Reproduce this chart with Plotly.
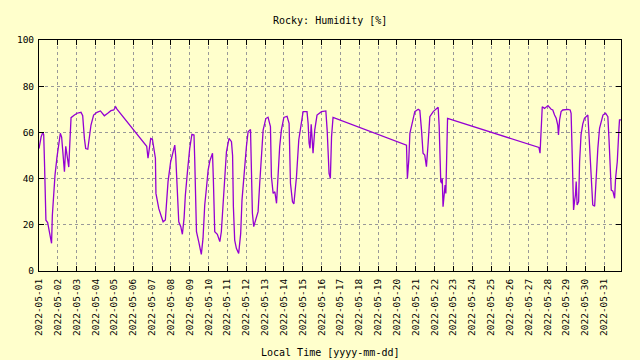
import plotly.graph_objects as go

times = [
    "2022-05-01 00:00", "2022-05-01 02:40", "2022-05-01 04:50", "2022-05-01 06:00", "2022-05-01 07:00",
    "2022-05-01 08:10", "2022-05-01 08:50", "2022-05-01 11:00", "2022-05-01 12:30", "2022-05-01 14:20",
    "2022-05-01 16:00", "2022-05-01 17:00", "2022-05-01 18:40", "2022-05-01 20:25", "2022-05-01 23:00",
    "2022-05-02 00:40", "2022-05-02 03:10", "2022-05-02 04:50", "2022-05-02 06:15", "2022-05-02 08:25",
    "2022-05-02 10:05", "2022-05-02 11:45", "2022-05-02 13:55", "2022-05-02 15:10", "2022-05-02 16:50",
    "2022-05-02 21:10", "2022-05-03 00:30", "2022-05-03 05:30", "2022-05-03 07:40", "2022-05-03 09:50",
    "2022-05-03 11:30", "2022-05-03 14:10", "2022-05-03 16:20", "2022-05-03 18:15", "2022-05-03 21:35",
    "2022-05-04 01:55", "2022-05-04 06:15", "2022-05-04 09:10", "2022-05-04 11:15", "2022-05-04 15:35",
    "2022-05-04 19:40", "2022-05-04 23:15", "2022-05-05 01:40", "2022-05-05 03:20",
    "2022-05-06 17:15", "2022-05-06 18:55", "2022-05-06 20:10", "2022-05-06 22:20", "2022-05-07 00:30",
    "2022-05-07 02:40", "2022-05-07 04:20", "2022-05-07 05:00", "2022-05-07 08:40", "2022-05-07 12:00",
    "2022-05-07 14:10", "2022-05-07 17:00", "2022-05-07 18:40", "2022-05-07 20:25", "2022-05-07 23:45",
    "2022-05-08 02:50", "2022-05-08 05:00", "2022-05-08 06:15", "2022-05-08 07:55", "2022-05-08 10:05",
    "2022-05-08 12:40", "2022-05-08 14:40", "2022-05-08 16:50", "2022-05-08 18:30", "2022-05-08 21:10",
    "2022-05-09 00:00", "2022-05-09 02:50", "2022-05-09 05:30", "2022-05-09 06:30", "2022-05-09 08:40",
    "2022-05-09 11:30", "2022-05-09 14:50", "2022-05-09 17:00", "2022-05-09 19:10", "2022-05-09 21:20",
    "2022-05-09 23:30", "2022-05-10 01:40", "2022-05-10 03:50", "2022-05-10 05:05", "2022-05-10 06:15",
    "2022-05-10 07:55", "2022-05-10 11:15", "2022-05-10 14:25", "2022-05-10 16:20", "2022-05-10 18:30",
    "2022-05-10 20:40", "2022-05-10 22:50", "2022-05-11 02:10", "2022-05-11 05:15", "2022-05-11 06:40",
    "2022-05-11 07:40", "2022-05-11 09:20", "2022-05-11 11:30", "2022-05-11 14:25", "2022-05-11 17:00",
    "2022-05-11 18:40", "2022-05-11 22:05", "2022-05-12 00:15", "2022-05-12 02:25", "2022-05-12 05:30",
    "2022-05-12 06:40", "2022-05-12 07:55", "2022-05-12 09:35", "2022-05-12 12:15", "2022-05-12 15:10",
    "2022-05-12 17:15", "2022-05-12 19:25", "2022-05-12 21:35", "2022-05-13 01:00", "2022-05-13 03:50",
    "2022-05-13 06:55", "2022-05-13 08:10", "2022-05-13 10:20", "2022-05-13 12:30", "2022-05-13 14:40",
    "2022-05-13 16:35", "2022-05-13 18:40", "2022-05-13 20:50", "2022-05-14 00:00", "2022-05-14 04:05",
    "2022-05-14 06:40", "2022-05-14 08:25", "2022-05-14 11:00", "2022-05-14 12:45", "2022-05-14 14:25",
    "2022-05-14 16:05", "2022-05-14 19:00", "2022-05-14 22:20", "2022-05-15 00:30", "2022-05-15 05:30",
    "2022-05-15 06:55", "2022-05-15 08:10", "2022-05-15 09:20", "2022-05-15 10:50", "2022-05-15 12:00",
    "2022-05-15 13:10", "2022-05-15 15:20", "2022-05-15 18:15", "2022-05-16 00:00", "2022-05-16 05:30",
    "2022-05-16 07:10", "2022-05-16 09:35", "2022-05-16 11:15", "2022-05-16 12:45", "2022-05-16 14:40",
    "2022-05-20 12:15", "2022-05-20 13:25", "2022-05-20 15:10", "2022-05-20 16:35", "2022-05-20 19:55",
    "2022-05-20 22:50", "2022-05-21 03:10", "2022-05-21 05:15", "2022-05-21 07:25", "2022-05-21 09:20",
    "2022-05-21 11:30", "2022-05-21 13:40", "2022-05-21 15:50", "2022-05-21 18:00", "2022-05-21 22:20",
    "2022-05-22 04:35", "2022-05-22 05:50", "2022-05-22 07:10", "2022-05-22 07:55", "2022-05-22 09:10",
    "2022-05-22 09:50", "2022-05-22 10:50", "2022-05-22 12:15", "2022-05-22 13:25", "2022-05-22 14:25",
    "2022-05-22 15:10", "2022-05-22 16:35",
    "2022-05-27 13:00", "2022-05-27 14:25", "2022-05-27 15:50", "2022-05-27 17:15", "2022-05-27 20:10",
    "2022-05-28 00:30", "2022-05-28 04:35", "2022-05-28 06:40", "2022-05-28 08:55", "2022-05-28 11:00",
    "2022-05-28 13:00", "2022-05-28 13:55", "2022-05-28 15:20", "2022-05-28 17:15", "2022-05-28 19:25",
    "2022-05-29 01:55", "2022-05-29 04:50", "2022-05-29 06:00", "2022-05-29 07:25", "2022-05-29 08:10",
    "2022-05-29 09:10", "2022-05-29 10:20", "2022-05-29 11:30", "2022-05-29 12:30", "2022-05-29 13:40",
    "2022-05-29 15:35", "2022-05-29 16:50", "2022-05-29 18:40", "2022-05-29 20:50", "2022-05-29 23:00",
    "2022-05-30 03:20", "2022-05-30 04:35", "2022-05-30 06:15", "2022-05-30 08:25", "2022-05-30 09:35",
    "2022-05-30 12:00", "2022-05-30 13:10", "2022-05-30 14:50", "2022-05-30 16:05", "2022-05-30 18:15",
    "2022-05-30 20:25", "2022-05-30 22:35", "2022-05-31 01:55", "2022-05-31 04:50", "2022-05-31 06:15",
    "2022-05-31 07:55", "2022-05-31 09:10", "2022-05-31 11:15", "2022-05-31 13:25", "2022-05-31 14:40",
    "2022-05-31 16:50", "2022-05-31 19:00", "2022-05-31 19:40", "2022-05-31 21:35",
]

humidity = [
    53, 58, 60, 59, 47,
    33, 22, 21, 18.5, 14,
    12, 24, 34, 41.6, 49.5,
    53.8, 59.6, 58, 52, 43,
    54, 49.5, 45, 54.5, 66.4,
    67.5, 68.3, 68.7, 67.2, 57.4,
    53, 52.7, 57.4, 63.2, 67.5,
    68.7, 69.3, 67.8, 67.2, 68.3,
    69.4, 69.7, 71.1, 70.1,
    54, 48.8, 52.4, 57.4, 57.1,
    52.4, 48.8, 33.6, 27, 23.5,
    21.3, 22.1, 28.6, 38.7, 47.3,
    52.4, 54.5, 49.5, 34.3, 21.3,
    19.2, 15.9, 22.8, 32.9, 43,
    53, 59.2, 58.9, 47.3, 17,
    12.7, 7.2, 14.1, 28.6, 35.8,
    43.7, 47.6, 50.2, 51, 38.7,
    17, 15.9, 12.7, 17, 28.6,
    43, 51.6, 57.4, 56, 50,
    28, 13.4, 9.8, 7.6, 16.3,
    30.7, 46.6, 53.8, 60.3, 61.3,
    43.7, 25, 19.2, 22.1, 25.7,
    38, 49.5, 61, 66, 66.6,
    62.5, 40.8, 33.6, 34.3, 29.3,
    43.7, 53.8, 61, 66.5, 67,
    63.9, 38, 30, 29, 35,
    40.8, 56.7, 63.2, 69, 69,
    63.9, 55.3, 53.1, 63.5, 56.7,
    51, 61, 67.5, 69, 69.3,
    61, 42.3, 40.1, 58.1, 66.5,
    54.5, 40.1, 48, 59.6, 65.4,
    69, 70, 69.5, 61, 51,
    50.2, 45.2, 55.3, 66.8, 69,
    70.9, 63.2, 52.4, 38.7, 38,
    40, 27.8, 34.3, 37.2, 33.6,
    48.8, 66.1,
    53.5, 51, 61, 71.1, 70.4,
    71.6, 70, 69.7, 67.5, 66.1,
    63.2, 58.9, 65.4, 69, 69.7,
    70, 69.7, 68.3, 50.2, 32.9,
    26.4, 30, 32.9, 38.7, 28.6,
    30, 47.3, 58.9, 63.6, 66.1,
    67.5, 60.3, 50.2, 37.2, 28.6,
    28, 37.2, 47.3, 53.1, 61.8,
    64.6, 67.5, 68.3, 66.8, 57.4,
    41.6, 35, 34.6, 31.5, 40.1,
    47.3, 61.8, 65.4, 65.4,
]

y_ticks = [0, 20, 40, 60, 80, 100]
title_text = "Rocky: Humidity [%]"
x_title_text = "Local Time [yyyy-mm-dd]"

BG = "#ffffcc"
FONT = "DejaVu Sans Mono"

fig = go.Figure()
fig.add_trace(go.Scatter(
    x=times, y=humidity, mode="lines",
    line=dict(color="#9400d3", width=1.3),
    showlegend=False, hoverinfo="x+y",
))

axis_common = dict(
    showgrid=True, gridcolor="#999999", gridwidth=1, griddash="3px,3px",
    showline=True, linecolor="black", linewidth=1, mirror="ticks",
    ticks="inside", ticklen=5, tickcolor="black", tickwidth=1,
    zeroline=False, automargin=False,
    tickfont=dict(family=FONT, size=9.5, color="black"),
)

fig.update_xaxes(
    type="date", range=[times[0], times[-1]],
    tick0="2022-05-01", dtick=86400000, tickformat="%Y-%m-%d",
    tickangle=-90, ticklabelstandoff=3,
    **axis_common,
)
fig.update_yaxes(
    range=[0, 100], tickvals=y_ticks, ticktext=[str(v) for v in y_ticks],
    ticklabelstandoff=2,
    **axis_common,
)

fig.update_layout(
    width=640, height=360,
    margin=dict(l=39, r=19, t=40, b=89, autoexpand=False),
    paper_bgcolor=BG, plot_bgcolor=BG,
    font=dict(family=FONT, size=10, color="black"),
    annotations=[
        dict(text=title_text, xref="paper", yref="paper", x=0.5, y=(271 - 20) / 231,
             xanchor="center", yanchor="middle", showarrow=False,
             font=dict(family=FONT, size=10, color="black")),
        dict(text=x_title_text, xref="paper", yref="paper", x=0.5, y=(271 - 352) / 231,
             xanchor="center", yanchor="middle", showarrow=False,
             font=dict(family=FONT, size=10, color="black")),
    ],
)

fig.write_html(
    "out.html",
    config={"displayModeBar": False},
    post_script="document.body.style.margin='0';document.body.style.background='#ffffcc';",
)
